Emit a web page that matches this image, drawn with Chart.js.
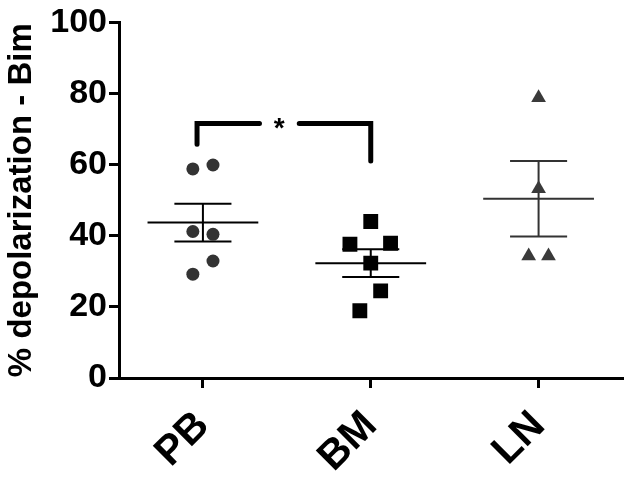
<!DOCTYPE html>
<html>
<head>
<meta charset="utf-8">
<script src="https://cdn.jsdelivr.net/npm/chart.js@4/dist/chart.umd.min.js"></script>
<style>
  html, body { margin: 0; padding: 0; background: #fff; }
  #wrap { width: 633px; height: 477px; }
</style>
</head>
<body>
<div id="wrap"><canvas id="c" width="633" height="477"></canvas></div>
<script>
// categories + per-group values
const categories = ['PB', 'BM', 'LN'];
const pbValues = [58.8, 59.9, 41.2, 40.4, 32.9, 29.2];
const pbJitter = [-0.06, 0.06, -0.06, 0.06, 0.06, -0.06];
const bmValues = [44.0, 37.6, 37.9, 32.3, 24.5, 18.9];
const bmJitter = [0, -0.124, 0.118, 0, 0.059, -0.065];
const lnValues = [78.8, 53.2, 34.3, 34.3];
const lnJitter = [0, 0, -0.059, 0.059];
const groupMeans = [43.7, 32.3, 50.4];
const groupSems = [5.3, 3.9, 10.6];
const yTicks = [0, 20, 40, 60, 80, 100];
// significance bracket PB vs BM
const bracketLeftX = [-0.035, -0.035, 0.337];
const bracketLeftY = [65.7, 71.6, 71.6];
const bracketRightX = [0.574, 1.0, 1.0];
const bracketRightY = [71.6, 71.6, 61.0];
const starPos = [0.455, 71.6];

const FONT = '"Liberation Sans", Arial, sans-serif';
const groupColors = ['#333333', '#000000', '#3a3a3a'];
const barColors = ['#000000', '#000000', '#333333'];

function pts(vals, jit, i) { return vals.map((v, k) => ({ x: i + jit[k], y: v })); }
function seg(x0, x1, y0, y1) { return [{ x: x0, y: y0 }, { x: x1, y: y1 }]; }

const datasets = [
  { type: 'scatter', label: 'PB', data: pts(pbValues, pbJitter, 0), pointStyle: 'circle', pointRadius: 6.5, backgroundColor: groupColors[0], borderWidth: 0 },
  { type: 'scatter', label: 'BM', data: pts(bmValues, bmJitter, 1), pointStyle: 'rect', pointRadius: 10.5, backgroundColor: groupColors[1], borderWidth: 0 },
  { type: 'scatter', label: 'LN', data: pts(lnValues, lnJitter, 2), pointStyle: 'triangle', pointRadius: 8.5, backgroundColor: groupColors[2], borderWidth: 0 },
];

// mean +/- SEM lines
categories.forEach((c, i) => {
  const m = groupMeans[i], s = groupSems[i];
  const line = { type: 'line', borderColor: barColors[i], borderWidth: 2, pointRadius: 0, fill: false, showLine: true };
  datasets.push({ ...line, data: seg(i - 0.33, i + 0.33, m, m) });
  datasets.push({ ...line, data: seg(i - 0.17, i + 0.17, m + s, m + s) });
  datasets.push({ ...line, data: seg(i - 0.17, i + 0.17, m - s, m - s) });
  datasets.push({ ...line, data: seg(i, i, m - s, m + s) });
});

const bracket = { type: 'line', borderColor: '#000', borderWidth: 5, pointRadius: 0, fill: false, borderCapStyle: 'round', borderJoinStyle: 'miter' };
datasets.push({ ...bracket, data: bracketLeftX.map((x, k) => ({ x, y: bracketLeftY[k] })) });
datasets.push({ ...bracket, data: bracketRightX.map((x, k) => ({ x, y: bracketRightY[k] })) });

const starPlugin = {
  id: 'star',
  afterDatasetsDraw(chart) {
    const { ctx, scales } = chart;
    ctx.save();
    ctx.fillStyle = '#000';
    ctx.font = 'bold 28px ' + FONT;
    ctx.textAlign = 'center';
    ctx.textBaseline = 'middle';
    ctx.fillText('*', scales.x.getPixelForValue(starPos[0]), scales.y.getPixelForValue(starPos[1]) + 6);
    ctx.restore();
  }
};

new Chart(document.getElementById('c'), {
  data: { datasets },
  options: {
    responsive: false,
    animation: false,
    devicePixelRatio: 1,
    layout: { padding: { top: 19, right: 7, left: 0, bottom: 0 } },
    plugins: { legend: { display: false }, tooltip: { enabled: false } },
    scales: {
      x: {
        type: 'linear', min: -0.5, max: 2.5,
        afterBuildTicks: (axis) => { axis.ticks = categories.map((c, i) => ({ value: i })); },
        afterFit: (axis) => { axis.height = 99; },
        ticks: {
          callback: (v) => categories[v] ?? '',
          color: '#000', font: { family: FONT, weight: 'bold', size: 41 },
          maxRotation: 45, minRotation: 45, padding: 14, autoSkip: false,
        },
        grid: { drawOnChartArea: false, drawTicks: true, tickLength: 10, lineWidth: 3, color: '#000' },
        border: { display: true, color: '#000', width: 3 },
      },
      y: {
        min: 0, max: 100,
        afterBuildTicks: (axis) => { axis.ticks = yTicks.map(v => ({ value: v })); },
        afterFit: (axis) => { axis.width = 119; },
        ticks: { color: '#000', font: { family: FONT, weight: 'bold', size: 34 }, padding: 2 },
        grid: { drawOnChartArea: false, drawTicks: true, tickLength: 10, lineWidth: 3, color: '#000' },
        border: { display: true, color: '#000', width: 3 },
        title: { display: true, text: '% depolarization - Bim', color: '#000', font: { family: FONT, weight: 'bold', size: 33 }, padding: { top: 2, bottom: 2 } },
      },
    },
  },
  plugins: [starPlugin],
});
</script>
</body>
</html>
